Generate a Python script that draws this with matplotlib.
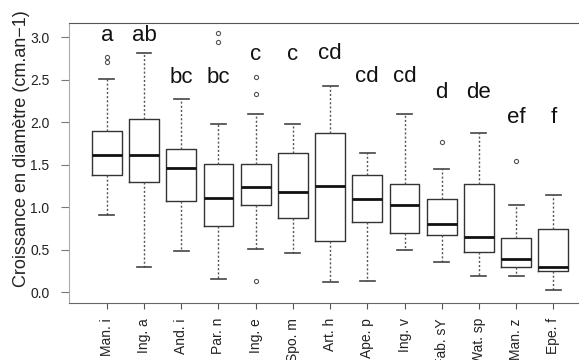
import matplotlib
matplotlib.use("Agg")
import matplotlib.pyplot as plt

plt.rcParams['font.family'] = ['Liberation Sans', 'DejaVu Sans']

# species and growth statistics (cm/an)
species = ['Man. i', 'Ing. a', 'And. i', 'Par. n', 'Ing. e', 'Spo. m', 'Art. h',
           'Ape. p', 'Ing. v', 'Fab. sY', 'Wat. sp', 'Man. z', 'Epe. f']
whis_lo = [0.91, 0.30, 0.48, 0.15, 0.51, 0.46, 0.12, 0.13, 0.49, 0.35, 0.19, 0.19, 0.02]
q1 = [1.38, 1.29, 1.07, 0.78, 1.02, 0.87, 0.60, 0.82, 0.70, 0.67, 0.47, 0.30, 0.25]
median = [1.61, 1.61, 1.46, 1.11, 1.24, 1.18, 1.25, 1.09, 1.02, 0.80, 0.65, 0.39, 0.30]
q3 = [1.89, 2.04, 1.68, 1.51, 1.51, 1.64, 1.87, 1.38, 1.27, 1.09, 1.27, 0.64, 0.74]
whis_hi = [2.51, 2.81, 2.27, 1.98, 2.10, 1.98, 2.43, 1.64, 2.10, 1.45, 1.87, 1.03, 1.14]
outliers = [[2.71, 2.77], [], [], [2.94, 3.05], [0.13, 2.33, 2.53], [], [],
            [], [], [1.76], [], [1.54], []]

# significance groups and their heights
groups = ['a', 'ab', 'bc', 'bc', 'c', 'c', 'cd', 'cd', 'cd', 'd', 'de', 'ef', 'f']
group_y = [3.02, 3.02, 2.53, 2.53, 2.79, 2.79, 2.81, 2.54, 2.54, 2.35, 2.35, 2.06, 2.06]

fig = plt.figure(figsize=(5.79, 3.60), dpi=100)
ax = fig.add_axes([0.119, 0.159, 0.881, 0.778])

stats = []
for i in range(len(species)):
    stats.append({'label': species[i], 'whislo': whis_lo[i], 'q1': q1[i],
                  'med': median[i], 'q3': q3[i], 'whishi': whis_hi[i],
                  'fliers': outliers[i]})

col = '#333333'
ax.bxp(stats, positions=range(len(species)), widths=0.8,
       boxprops=dict(color=col, linewidth=1.0),
       medianprops=dict(color='#111111', linewidth=2.0),
       whiskerprops=dict(color='#555555', linewidth=1.0, linestyle=(0, (1.5, 1.5))),
       capprops=dict(color='#444444', linewidth=1.2),
       flierprops=dict(marker='o', markersize=3, markerfacecolor='none',
                       markeredgecolor='#555555', markeredgewidth=0.8),
       capwidths=0.4)

for i, g in enumerate(groups):
    ax.text(i, group_y[i], g, ha='center', va='center', fontsize=16, color='#111111')

ax.set_xlim(-1.02, 12.69)
ax.set_ylim(-0.126, 3.17)
ax.set_yticks([0.0, 0.5, 1.0, 1.5, 2.0, 2.5, 3.0])
ax.set_yticklabels(['0.0', '0.5', '1.0', '1.5', '2.0', '2.5', '3.0'], fontsize=10, color='#222222')
ax.set_xticks(range(len(species)))
ax.set_xticklabels(species, rotation=90, fontsize=10, color='#222222', va='top')
ax.tick_params(axis='x', length=4, pad=7, color='#555555')
ax.tick_params(axis='y', length=6, pad=8, color='#777777')

ax.spines['right'].set_visible(False)
ax.spines['left'].set_color('#aaaaaa')
ax.spines['left'].set_linestyle((0, (2, 1)))
ax.spines['bottom'].set_color('#666666')
ax.spines['top'].set_color('#555555')

ax.set_ylabel('Croissance en diamètre (cm.an−1)', fontsize=13, color='#222222')
ax.yaxis.set_label_coords(-0.077, 0.55)

fig.savefig('out.png', dpi=100)
